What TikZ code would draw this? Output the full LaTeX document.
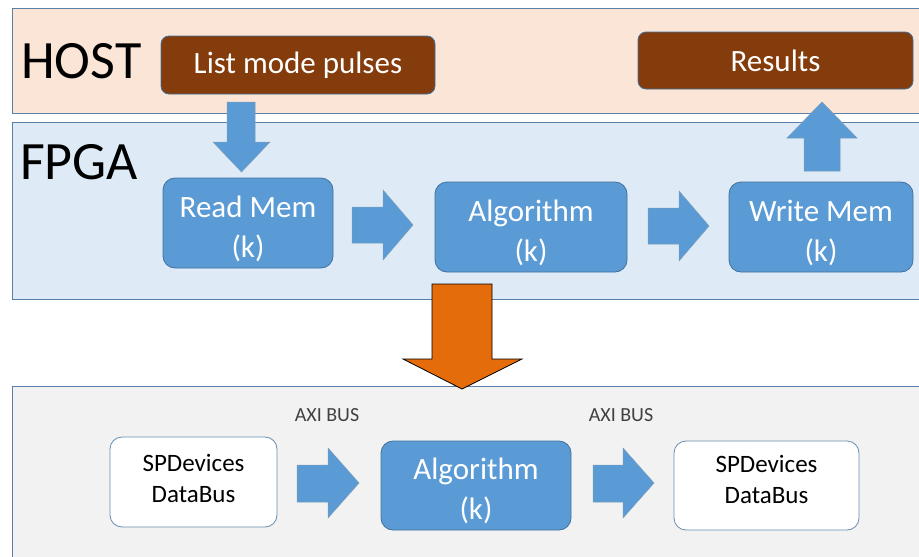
\documentclass[tikz,border=0pt]{standalone}
\usepackage{fontspec}
\setmainfont{Carlito}
\definecolor{peach}{HTML}{FBE5D6}
\definecolor{lightblue}{HTML}{DEEBF7}
\definecolor{lightgray}{HTML}{F2F2F2}
\definecolor{bandedge}{HTML}{5A7FA8}
\definecolor{boxedge}{HTML}{41719C}
\definecolor{boxblue}{HTML}{5B9BD5}
\definecolor{brownfill}{HTML}{843C0C}
\definecolor{orangefill}{HTML}{E46C0A}
\definecolor{labelgray}{HTML}{404040}
\newcommand\tallstrut{\rule{0pt}{33pt}}
\tikzset{
  band/.style={draw=bandedge, line width=1.2pt, anchor=north west, inner sep=0pt, minimum width=930pt},
  bandlabel/.style={anchor=west, inner sep=0pt, font=\fontsize{54}{60}\selectfont},
  bluebox/.style={fill=boxblue, draw=boxedge, line width=0.8pt, rounded corners=12pt, text=white,
    font=\fontsize{31}{40}\selectfont, align=center, inner sep=0pt},
  brownbox/.style={fill=brownfill, draw=boxedge, line width=0.8pt, rounded corners=8pt, text=white,
    font=\fontsize{31}{36}\selectfont, align=center, inner sep=0pt},
  whitebox/.style={fill=white, draw=boxedge!80, line width=0.8pt, rounded corners=12pt, inner sep=0pt},
  boxtext/.style={text=black, font=\fontsize{25}{31}\selectfont, align=center, inner sep=0pt},
  fatarrow/.style={fill=boxblue, draw=boxedge!70, line width=0.5pt},
  bigarrow/.style={fill=orangefill, draw=black, line width=0.8pt},
  buslabel/.style={text=labelgray, font=\fontsize{20}{22}\selectfont, inner sep=0pt}
}
\begin{document}
\begin{tikzpicture}[x=1pt, y=-1pt]
\clip (0,0) rectangle (919,557);
\fill[white] (0,0) rectangle (919,557);
% bands
\node[band, fill=peach, minimum height=105pt] (hostband) at (12,8) {};
\node[band, fill=lightblue, minimum height=177pt] (fpgaband) at (12,122) {};
\node[band, fill=lightgray, minimum height=200pt] (busband) at (12,386) {};
\node[bandlabel] (hostlbl) at (21,61) {HOST};
\node[bandlabel] (fpgalbl) at (20,162) {FPGA};
% fat arrows
\draw[fatarrow] (227,102) -- (255,102) -- (255,142) -- (270,142) -- (241.5,172) -- (213,142) -- (227,142) -- cycle;
\draw[fatarrow] (804,171) -- (840,171) -- (840,138) -- (857,138) -- (822,102) -- (787,138) -- (804,138) -- cycle;
\draw[fatarrow] (352,207) -- (383,207) -- (383,190) -- (413,225) -- (383,260) -- (383,243) -- (352,243) -- cycle;
\draw[fatarrow] (648,208) -- (679,208) -- (679,191) -- (709,226) -- (679,261) -- (679,244) -- (648,244) -- cycle;
\draw[fatarrow] (297,465) -- (328,465) -- (328,448) -- (359,483) -- (328,518) -- (328,502) -- (297,502) -- cycle;
\draw[fatarrow] (593,465) -- (623,465) -- (623,448) -- (654,483) -- (623,518) -- (623,502) -- (593,502) -- cycle;
\draw[bigarrow] (432,284) -- (492,284) -- (492,359) -- (522,359) -- (462,389) -- (403,359) -- (432,359) -- cycle;
% host boxes
\node[brownbox, minimum width=274pt, minimum height=58pt] (lmp) at (298,65) {List mode pulses};
\node[brownbox, minimum width=275pt, minimum height=57pt] (res) at (775.5,60.5) {Results};
% fpga boxes
\node[bluebox, minimum width=170pt, minimum height=90pt] (rm) at (248,223) {\tallstrut Read Mem\\(k)};
\node[bluebox, minimum width=192pt, minimum height=90pt] (alg) at (531,227) {\tallstrut Algorithm\\(k)};
\node[bluebox, minimum width=184pt, minimum height=90pt] (wm) at (821,227) {\tallstrut Write Mem\\(k)};
% bus boxes
\node[whitebox, minimum width=167pt, minimum height=90pt] (sp1) at (193.5,482) {};
\node[boxtext] (sp1txt) at ([yshift=3.5pt]sp1.center) {SPDevices\\DataBus};
\node[bluebox, minimum width=190pt, minimum height=89pt] (alg2) at (476,485.5) {\tallstrut Algorithm\\(k)};
\node[whitebox, minimum width=185pt, minimum height=89pt] (sp2) at (766.5,485.5) {};
\node[boxtext] (sp2txt) at ([yshift=6pt]sp2.center) {SPDevices\\DataBus};
\node[buslabel] (bus1) at (327,415) {AXI BUS};
\node[buslabel] (bus2) at (621,415) {AXI BUS};
\end{tikzpicture}
\end{document}
